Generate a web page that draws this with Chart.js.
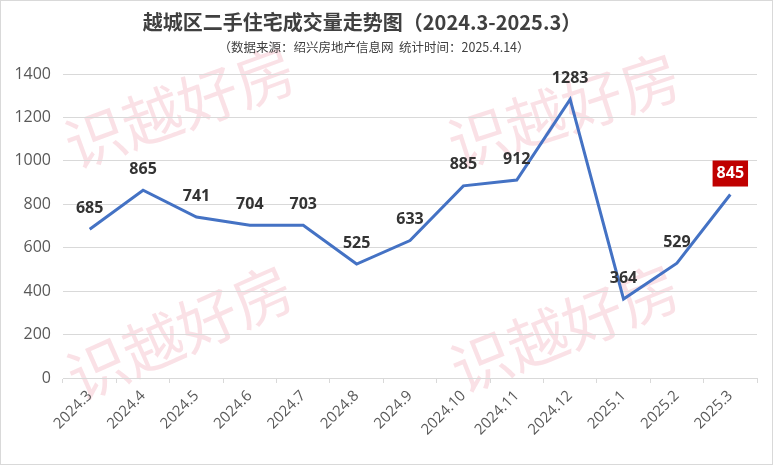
<!DOCTYPE html>
<html>
<head>
<meta charset="utf-8">
<script src="https://cdn.jsdelivr.net/npm/chart.js@4/dist/chart.umd.min.js"></script>
<style>
  html, body { margin: 0; padding: 0; background: #fff; }
  #wrap { width: 773px; height: 465px; }
</style>
</head>
<body>
<div id="wrap"><canvas id="lineChart" width="773" height="465"></canvas></div>
<script>
'use strict';

// data
var months = ['2024.3', '2024.4', '2024.5', '2024.6', '2024.7', '2024.8', '2024.9',
  '2024.10', '2024.11', '2024.12', '2025.1', '2025.2', '2025.3'];
var deals = [685, 865, 741, 704, 703, 525, 633, 885, 912, 1283, 364, 529, 845];
var yTicks = [0, 200, 400, 600, 800, 1000, 1200, 1400];

var titleText = '越城区二手住宅成交量走势图（2024.3-2025.3）';
var subText = '（数据来源：绍兴房地产信息网  统计时间：2025.4.14）';
var markText = '识越好房';

var CJK = '"Noto Sans CJK SC", "Noto Sans", sans-serif';
var NUM = '"Open Sans", "Noto Sans", sans-serif';

// background, border, title and watermark
var frame = {
  id: 'frame',
  beforeDraw: function (chart) {
    var ctx = chart.ctx;
    ctx.save();
    ctx.fillStyle = '#fff';
    ctx.fillRect(0, 0, chart.width, chart.height);
    ctx.strokeStyle = '#d9d9d9';
    ctx.lineWidth = 1;
    ctx.strokeRect(0.5, 0.5, chart.width - 1, chart.height - 1);

    // watermark
    ctx.fillStyle = 'rgba(225, 80, 105, 0.17)';
    ctx.font = '60px ' + CJK;
    ctx.textAlign = 'center';
    ctx.textBaseline = 'middle';
    [[180, 107, -20], [564, 110, -18], [180, 332, -24], [565, 328, -22]].forEach(function (p) {
      ctx.save();
      ctx.translate(p[0], p[1]);
      ctx.rotate(p[2] * Math.PI / 180);
      ctx.fillText(markText, 0, 0);
      ctx.restore();
    });

    ctx.fillStyle = '#404040';
    ctx.font = 'bold 20px ' + CJK;
    ctx.fillText(titleText, 362, 22);
    ctx.font = '12.5px ' + CJK;
    ctx.fillText(subText, 374, 47);
    ctx.restore();
  }
};

// value labels above each point, last one boxed in red
var valueLabels = {
  id: 'valueLabels',
  afterDatasetsDraw: function (chart) {
    var ctx = chart.ctx;
    var meta = chart.getDatasetMeta(0);
    ctx.save();
    ctx.font = 'bold 16px ' + NUM;
    ctx.textAlign = 'center';
    ctx.textBaseline = 'middle';
    meta.data.forEach(function (pt, i) {
      var txt = String(deals[i]);
      var x = pt.x, y = pt.y - 21;
      if (i === deals.length - 1) {
        var w = ctx.measureText(txt).width + 8;
        ctx.fillStyle = '#c00000';
        ctx.fillRect(x - w / 2, y - 13, w, 26);
        ctx.fillStyle = '#fff';
      } else {
        ctx.fillStyle = '#333333';
      }
      ctx.fillText(txt, x, y);
    });
    ctx.restore();
  }
};

var ctx = document.getElementById('lineChart').getContext('2d');
new Chart(ctx, {
  type: 'line',
  data: {
    labels: months,
    datasets: [{
      data: deals,
      borderColor: '#4472c4',
      borderWidth: 3,
      pointRadius: 0,
      tension: 0,
      fill: false
    }]
  },
  options: {
    responsive: false,
    animation: false,
    layout: { padding: { left: 0, right: 16, top: 74, bottom: 0 } },
    plugins: {
      legend: { display: false },
      title: { display: false },
      tooltip: { enabled: false }
    },
    scales: {
      x: {
        offset: true,
        grid: {
          offset: true,
          drawOnChartArea: false,
          drawTicks: true,
          tickLength: 5,
          color: '#d9d9d9'
        },
        border: { color: '#d9d9d9' },
        ticks: {
          minRotation: 45,
          maxRotation: 45,
          autoSkip: false,
          padding: 4,
          color: '#595959',
          font: { family: NUM, size: 15 }
        },
        afterFit: function (axis) { axis.height = 87; }
      },
      y: {
        min: 0,
        max: 1400,
        afterBuildTicks: function (axis) {
          axis.ticks = yTicks.map(function (v) { return { value: v }; });
        },
        grid: { color: '#d9d9d9', drawTicks: false },
        border: { display: false },
        ticks: {
          padding: 12,
          color: '#595959',
          font: { family: NUM, size: 16 },
          callback: function (v) { return String(v); }
        },
        afterFit: function (axis) { axis.width = 63; }
      }
    }
  },
  plugins: [frame, valueLabels]
});
</script>
</body>
</html>
